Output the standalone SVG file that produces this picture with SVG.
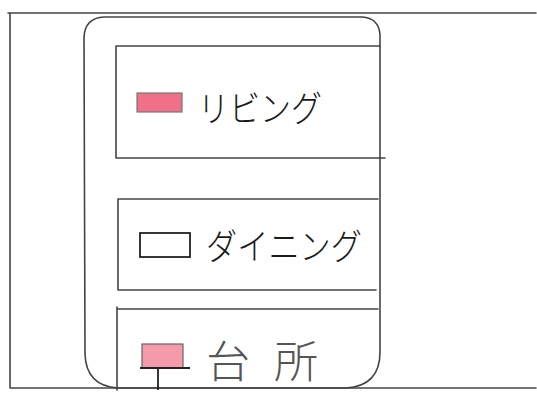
<svg xmlns="http://www.w3.org/2000/svg" width="537" height="395" viewBox="0 0 537 395">
<style>
.ln{fill:none;stroke:#444;stroke-width:1.6;stroke-linecap:round}
.pen{fill:none;stroke:#222;stroke-width:1.8}
.txt{font-family:"Noto Sans CJK JP","Noto Sans",sans-serif;fill:#1a1a1a;font-weight:300}
</style>
<rect width="537" height="395" fill="#fff"/>
<g id="frame">
<path class="ln" d="M8 13 H536 M10 13 V388 M10 388 H536"/>
</g>
<g id="phone">
<path class="ln" d="M84 37 Q85 18 104 17 H362 Q379 18 380 35 V352 Q380 386 346 388 H118 Q86 386 85 354 Z"/>
</g>
<g id="living">
<path class="ln" d="M116 46 H380 M116 46 V158 M116 158 H385"/>
<rect x="137" y="93" width="45" height="19" fill="#f0708a" stroke="#777" stroke-width="1.2"/>
<text class="txt" x="198" y="122" font-size="36" textLength="124" lengthAdjust="spacingAndGlyphs">リビング</text>
</g>
<g id="dining">
<path class="ln" d="M118 199 H378 M118 199 V290 M118 290 H376"/>
<rect x="140" y="233" width="50" height="24" class="pen"/>
<text class="txt" x="206" y="260" font-size="36" textLength="156" lengthAdjust="spacingAndGlyphs">ダイニング</text>
</g>
<g id="kitchen">
<path class="ln" d="M117 309 H378 M117 307 V390"/>
<rect x="142" y="344" width="41" height="24" fill="#f59aaa" stroke="#666" stroke-width="1.2"/>
<path class="pen" d="M140 368 H190 M158 368 V390"/>
<text class="txt" x="206" y="378" font-size="44" letter-spacing="24" style="fill:#555">台所</text>
</g>
</svg>
